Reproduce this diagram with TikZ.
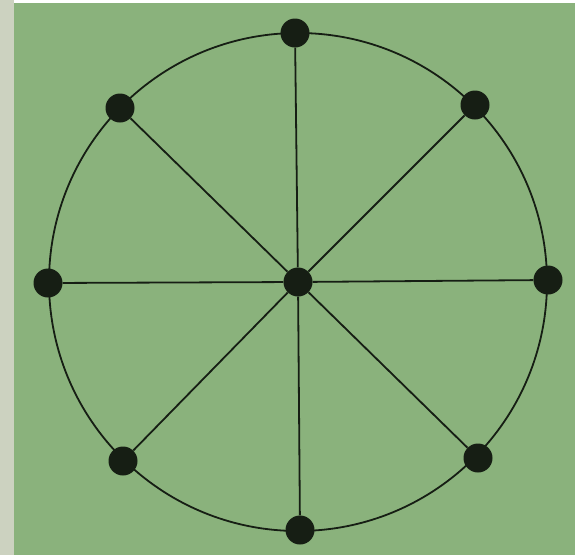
\documentclass[tikz,border=0pt]{standalone}
\usepackage{tikz}
\definecolor{board}{RGB}{138,178,124}
\definecolor{edgestrip}{RGB}{204,210,192}
\definecolor{ink}{RGB}{22,30,20}
\tikzset{
  dot/.style={circle, fill=ink, inner sep=0pt, minimum size=29pt},
  spoke/.style={draw=ink, line width=1.8pt}
}
\begin{document}
\begin{tikzpicture}[x=1pt,y=-1pt]
\useasboundingbox (0,0) rectangle (584,555);
\fill[white] (0,0) rectangle (584,555);
\fill[edgestrip] (0,0) rectangle (14,555);
\fill[board] (14,3) rectangle (575,555);

\coordinate (mid) at (298,282);
\draw[spoke] (mid) circle [radius=249];

\node[dot] (ctr) at (298,282) {};
\node[dot] (n) at (295,33) {};
\node[dot] (ne) at (475,105) {};
\node[dot] (e) at (548,280) {};
\node[dot] (se) at (478,458) {};
\node[dot] (s) at (300,530) {};
\node[dot] (sw) at (123,461) {};
\node[dot] (w) at (48,283) {};
\node[dot] (nw) at (120,108) {};

\draw[spoke] (ctr) -- (n);
\draw[spoke] (ctr) -- (ne);
\draw[spoke] (ctr) -- (e);
\draw[spoke] (ctr) -- (se);
\draw[spoke] (ctr) -- (s);
\draw[spoke] (ctr) -- (sw);
\draw[spoke] (ctr) -- (w);
\draw[spoke] (ctr) -- (nw);
\end{tikzpicture}
\end{document}
